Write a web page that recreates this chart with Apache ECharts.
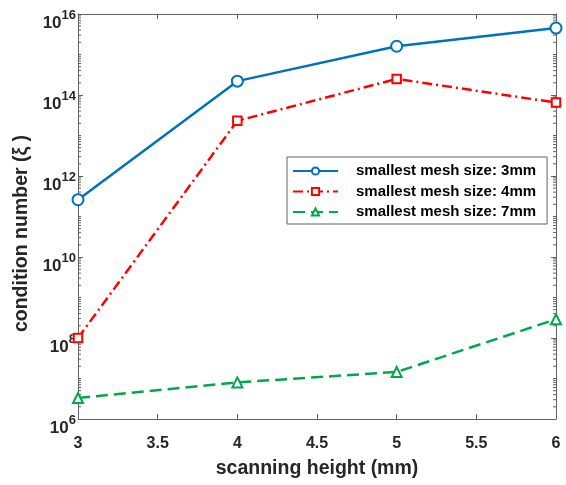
<!DOCTYPE html>
<html>
<head>
<meta charset="utf-8">
<script src="https://cdn.jsdelivr.net/npm/echarts@6/dist/echarts.min.js"></script>
<style>
  html, body { margin: 0; padding: 0; background: #fff; }
  #chart { width: 566px; height: 485px; }
</style>
</head>
<body>
<div id="chart"></div>
<script>
// Scanning heights (mm) and condition numbers per smallest mesh size
const heights = [3, 4, 5, 6];
const mesh3mm = [2.6e11, 2.2e14, 1.6e15, 4.5e15];
const mesh4mm = [1.0e8, 2.3e13, 2.5e14, 6.5e13];
const mesh7mm = [3.3e6, 8.0e6, 1.45e7, 2.9e8];
const seriesNames = ['smallest mesh size: 3mm', 'smallest mesh size: 4mm', 'smallest mesh size: 7mm'];

// Log-axis minor tick positions: 2..9 within each decade, plus odd decades
const minorTickValues = [];
for (let e = 6; e < 16; e++) {
  for (let k = 2; k <= 9; k++) minorTickValues.push(k * Math.pow(10, e));
  if (e % 2 === 1) minorTickValues.push(Math.pow(10, e));
}

const FONT = '"Liberation Sans", Arial, sans-serif';
const AXIS_COLOR = '#626262';
const TEXT_COLOR = '#262626';
const X_MIN = 3, X_MAX = 6;

const chart = echarts.init(document.getElementById('chart'), null, { renderer: 'canvas' });

const lineSeries = (name, data, color, type, symbol, size) => ({
  name: name,
  type: 'line',
  data: heights.map((h, i) => [h, data[i]]),
  symbol: symbol,
  symbolSize: size,
  showSymbol: true,
  lineStyle: { color: color, width: 2.5, type: type },
  itemStyle: { color: '#fff', borderColor: color, borderWidth: 2 },
  emphasis: { disabled: true },
  z: 3
});

chart.setOption({
  animation: false,
  backgroundColor: '#fff',
  grid: { left: 78, right: 10, top: 14, bottom: 66, containLabel: false },
  xAxis: [{
    type: 'value',
    min: X_MIN, max: X_MAX, interval: 0.5,
    name: 'scanning height (mm)',
    nameLocation: 'middle',
    nameGap: 40,
    nameTextStyle: { fontFamily: FONT, fontWeight: 'bold', fontSize: 19.5, color: TEXT_COLOR },
    axisLine: { show: true, lineStyle: { color: AXIS_COLOR, width: 1 } },
    axisTick: { show: true, inside: true, length: 5, lineStyle: { color: AXIS_COLOR } },
    axisLabel: { fontFamily: FONT, fontWeight: 'bold', fontSize: 16, color: TEXT_COLOR, margin: 17,
      formatter: v => String(v) },
    splitLine: { show: false }
  }, {
    type: 'value', position: 'top',
    min: X_MIN, max: X_MAX, interval: 0.5,
    axisLine: { show: true, lineStyle: { color: AXIS_COLOR, width: 1 } },
    axisTick: { show: true, inside: true, length: 5, lineStyle: { color: AXIS_COLOR } },
    axisLabel: { show: false },
    splitLine: { show: false }
  }],
  yAxis: [{
    type: 'log', logBase: 10,
    min: 1e6, max: 1e16, interval: 2,
    name: 'condition number (ξ )',
    nameLocation: 'middle',
    nameGap: 44,
    nameTextStyle: { fontFamily: FONT, fontWeight: 'bold', fontSize: 19.5, color: TEXT_COLOR,
      padding: [0, 34, 0, 0] },
    axisLine: { show: true, lineStyle: { color: AXIS_COLOR, width: 1 } },
    axisTick: { show: true, inside: true, length: 5, lineStyle: { color: AXIS_COLOR } },
    axisLabel: {
      margin: 2,
      padding: [12, 0, 0, 0],
      formatter: v => '{b|10}{s|' + Math.round(Math.log10(v)) + '}',
      rich: {
        b: { fontFamily: FONT, fontWeight: 'bold', fontSize: 17, color: TEXT_COLOR, padding: [6, 0, 0, 0] },
        s: { fontFamily: FONT, fontWeight: 'bold', fontSize: 13, color: TEXT_COLOR, padding: [0, 0, 10, 0] }
      }
    },
    splitLine: { show: false }
  }, {
    type: 'log', logBase: 10, position: 'right',
    min: 1e6, max: 1e16, interval: 2,
    axisLine: { show: true, lineStyle: { color: AXIS_COLOR, width: 1 } },
    axisTick: { show: true, inside: true, length: 5, lineStyle: { color: AXIS_COLOR } },
    axisLabel: { show: false },
    splitLine: { show: false }
  }],
  legend: {
    orient: 'vertical',
    left: 287, top: 157,
    padding: [6, 11, 4, 5],
    itemGap: 4.5,
    itemWidth: 45,
    itemHeight: 9,
    backgroundColor: '#fff',
    borderColor: AXIS_COLOR,
    borderWidth: 1,
    data: seriesNames,
    textStyle: { fontFamily: FONT, fontWeight: 'bold', fontSize: 15, lineHeight: 16, color: '#000',
      padding: [0, 0, 0, 13] }
  },
  series: [
    lineSeries(seriesNames[0], mesh3mm, '#0072BD', 'solid', 'circle', 11),
    lineSeries(seriesNames[1], mesh4mm, '#FF0000', [10, 4, 2, 4], 'rect', 8.5),
    lineSeries(seriesNames[2], mesh7mm, '#00A84A', [12, 6], 'triangle', 10),
    {
      // minor ticks on the left and right log axes
      type: 'custom',
      silent: true,
      data: minorTickValues.map(v => [X_MIN, v]),
      renderItem: (params, api) => {
        const v = api.value(1);
        const l = api.coord([X_MIN, v]);
        const r = api.coord([X_MAX, v]);
        const style = { stroke: AXIS_COLOR, lineWidth: 1 };
        return {
          type: 'group',
          children: [
            { type: 'line', shape: { x1: l[0], y1: l[1], x2: l[0] + 3, y2: l[1] }, style: style },
            { type: 'line', shape: { x1: r[0], y1: r[1], x2: r[0] - 3, y2: r[1] }, style: style }
          ]
        };
      },
      z: 1
    }
  ]
});
</script>
</body>
</html>
